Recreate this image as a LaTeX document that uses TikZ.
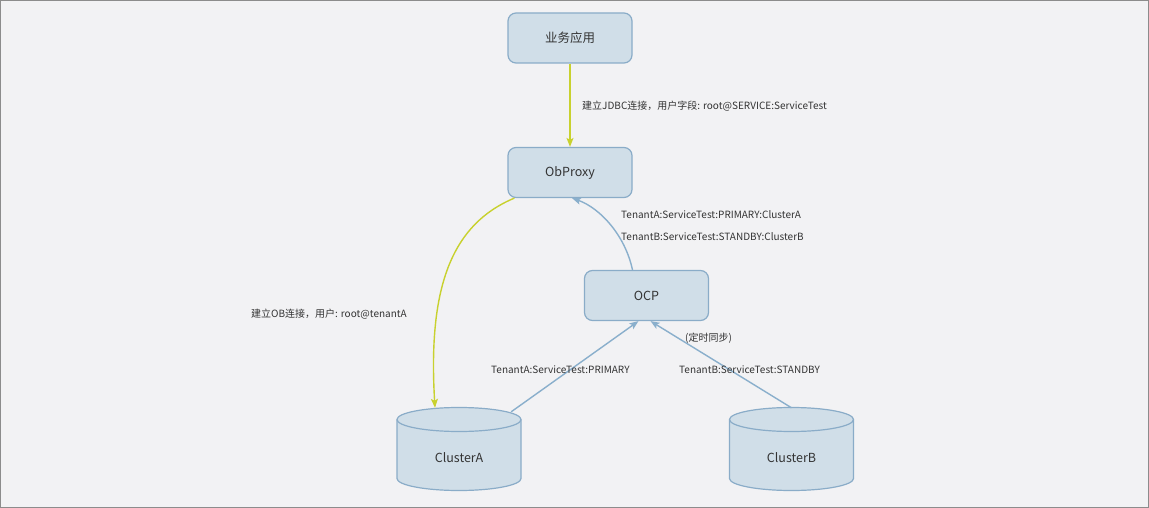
\documentclass[tikz,border=0pt]{standalone}
\usepackage{fontspec}
\setmainfont{Noto Sans CJK SC}
\usetikzlibrary{arrows.meta,calc}
\definecolor{bg}{HTML}{F2F2F4}
\definecolor{frame}{HTML}{8C8C8C}
\definecolor{nfill}{HTML}{D0DEE8}
\definecolor{nline}{HTML}{8AACC8}
\definecolor{ablue}{HTML}{8AAFCC}
\definecolor{ayel}{HTML}{C8D12E}
\definecolor{txt}{HTML}{333333}
\tikzset{
  box/.style={draw=nline, fill=nfill, line width=1.2pt, rounded corners=8pt,
    minimum width=124pt, minimum height=50pt, inner sep=0pt,
    font=\fontsize{12.5}{14}\selectfont, text=txt},
  cylbox/.style={minimum width=124pt, minimum height=83pt, inner sep=0pt},
  lbl/.style={font=\fontsize{10}{12}\selectfont, text=txt, inner sep=0pt, anchor=west},
  yarrow/.style={draw=ayel, line width=1.4pt, -{Stealth[length=9pt,width=7pt,inset=2pt]}},
  barrow/.style={draw=ablue, line width=1.4pt, -{Stealth[length=9pt,width=7pt,inset=2pt]}},
}
\newcommand{\mycyl}[2]{%
  \fill[nfill] ($(#1)+(-62,30)$) -- ($(#1)+(-62,-29)$) arc (180:360:62pt and 12pt) -- ($(#1)+(62,30)$) arc (0:180:62pt and 12pt) -- cycle;
  \draw[nline, line width=1.2pt] ($(#1)+(-62,30)$) -- ($(#1)+(-62,-29)$) arc (180:360:62pt and 12pt) -- ($(#1)+(62,30)$) arc (0:180:62pt and 12pt) -- cycle;
  \draw[nline, line width=1.2pt] ($(#1)+(-62,30)$) arc (180:360:62pt and 12pt);
  \node[font=\fontsize{12.5}{14}\selectfont, text=txt] at ($(#1)+(0,-8)$) {#2};
}
\begin{document}
\begin{tikzpicture}[x=1pt,y=1pt]
\fill[bg] (0,0) rectangle (1149,-508);
\draw[frame, line width=1pt] (0.5,-0.5) rectangle (1148.5,-507.5);
\useasboundingbox (0,0) rectangle (1149,-508);

\node[box] (app) at (570,-38) {业务应用};
\node[box] (obp) at (570,-172.5) {ObProxy};
\node[box] (ocp) at (646.5,-295.5) {OCP};
\node[cylbox] (cA) at (459,-449.5) {};
\node[cylbox] (cB) at (791.5,-449.5) {};
\mycyl{cA}{ClusterA}
\mycyl{cB}{ClusterB}

\draw[yarrow] (app.south) -- (obp.north);
\node[lbl] (l1) at (582,-106) {建立JDBC连接，用户字段: root@SERVICE:ServiceTest};

\draw[yarrow] ($(obp.south west)+(7,0)$) .. controls (450,-225) and (428,-290) .. ($(cA.north)+(-24,0)$);
\node[lbl] (l2) at (251,-314) {建立OB连接，用户: root@tenantA};

\draw[barrow] ($(ocp.north)+(-14,0)$) .. controls (625,-235) and (600,-208) .. ($(obp.south)+(2,0)$);
\node[lbl] (l3) at (621,-215) {TenantA:ServiceTest:PRIMARY:ClusterA};
\node[lbl] (l4) at (621,-237) {TenantB:ServiceTest:STANDBY:ClusterB};

\draw[barrow] ($(cA.north east)+(-10,-4)$) -- ($(ocp.south)+(-8,0)$);
\draw[barrow] (cB.north) -- ($(ocp.south)+(4,0)$);
\node[lbl] (l5) at (491,-370) {TenantA:ServiceTest:PRIMARY};
\node[lbl] (l6) at (679,-370) {TenantB:ServiceTest:STANDBY};
\node[lbl] (l7) at (685,-338) {(定时同步)};
\end{tikzpicture}
\end{document}
